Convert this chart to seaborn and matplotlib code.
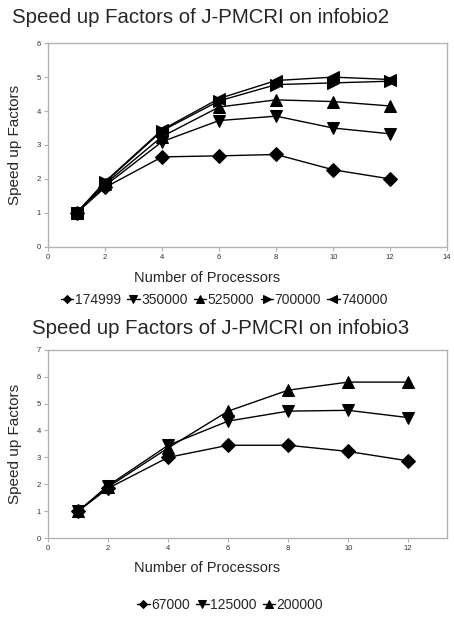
import numpy as np
import pandas as pd
import matplotlib
matplotlib.use("Agg")
import matplotlib.pyplot as plt
import seaborn as sns

procs = [1, 2, 4, 6, 8, 10, 12]

# infobio2
labels2 = ["174999", "350000", "525000", "700000", "740000"]
s174999 = [1.0, 1.75, 2.65, 2.68, 2.72, 2.27, 2.00]
s350000 = [1.0, 1.80, 3.10, 3.72, 3.85, 3.50, 3.33]
s525000 = [1.0, 1.85, 3.25, 4.12, 4.33, 4.28, 4.15]
s700000 = [1.0, 1.90, 3.42, 4.30, 4.78, 4.83, 4.88]
s740000 = [1.0, 1.92, 3.45, 4.37, 4.90, 5.00, 4.93]
markers2 = ["D", "v", "^", ">", "<"]

# infobio3
labels3 = ["67000", "125000", "200000"]
s67000 = [1.0, 1.85, 3.00, 3.45, 3.45, 3.22, 2.87]
s125000 = [1.0, 1.95, 3.45, 4.35, 4.72, 4.75, 4.48]
s200000 = [1.0, 1.90, 3.35, 4.72, 5.50, 5.80, 5.80]
markers3 = ["D", "v", "^"]

sns.set_style("white")
plt.rcParams['font.family'] = ['Liberation Sans', 'DejaVu Sans']

fig = plt.figure(figsize=(4.54, 6.17), dpi=100)
ax1 = fig.add_axes([0.106, 0.600, 0.879, 0.330])
ax2 = fig.add_axes([0.106, 0.128, 0.879, 0.305])


def draw(ax, series, labels, markers, ylim, xlim):
    for vals, lab, m in zip(series, labels, markers):
        ms = 7 if m == "D" else 8.5
        sns.lineplot(x=procs, y=vals, marker=m, color="black", ax=ax, label=lab,
                     linewidth=1, markersize=ms, markeredgecolor="black")
    ax.set_xlim(*xlim)
    ax.set_ylim(*ylim)
    ax.set_xticks(range(0, 15, 2) if xlim[1] > 13.5 else range(0, 13, 2))
    ax.set_yticks(range(0, ylim[1] + 1))
    for sp in ax.spines.values():
        sp.set_color("#b3b3b3")
        sp.set_linewidth(1)
    ax.tick_params(axis="both", labelsize=5.5, length=3, width=0.8, color="#b3b3b3",
                   direction="out", bottom=True, left=True, pad=2, labelcolor="#333333")
    ax.set_xlabel("")
    ax.set_ylabel("Speed up Factors", fontsize=11)
    ax.yaxis.set_label_coords(-0.065, 0.5)
    ax.get_legend().remove()


draw(ax1, [s174999, s350000, s525000, s700000, s740000], labels2, markers2, (0, 6), (0, 14))
draw(ax2, [s67000, s125000, s200000], labels3, markers3, (0, 7), (0, 13.3))

fig.text(0.026, 0.971, "Speed up Factors of J-PMCRI on infobio2", fontsize=14.7, va="center")
fig.text(0.07, 0.468, "Speed up Factors of J-PMCRI on infobio3", fontsize=14.7, va="center")

fig.text(0.456, 0.549, "Number of Processors", fontsize=10.5, ha="center", va="center")
fig.text(0.456, 0.079, "Number of Processors", fontsize=10.5, ha="center", va="center")

h1, l1 = ax1.get_legend_handles_labels()
fig.legend(h1, l1, loc="center", bbox_to_anchor=(0.494, 0.514), ncol=5, frameon=False,
           fontsize=10, handlelength=0.9, handletextpad=0.1, columnspacing=0.45,
           markerscale=0.6)
h2, l2 = ax2.get_legend_handles_labels()
fig.legend(h2, l2, loc="center", bbox_to_anchor=(0.507, 0.019), ncol=3, frameon=False,
           fontsize=10, handlelength=0.9, handletextpad=0.1, columnspacing=0.45,
           markerscale=0.6)

fig.savefig("out.png", dpi=100)
